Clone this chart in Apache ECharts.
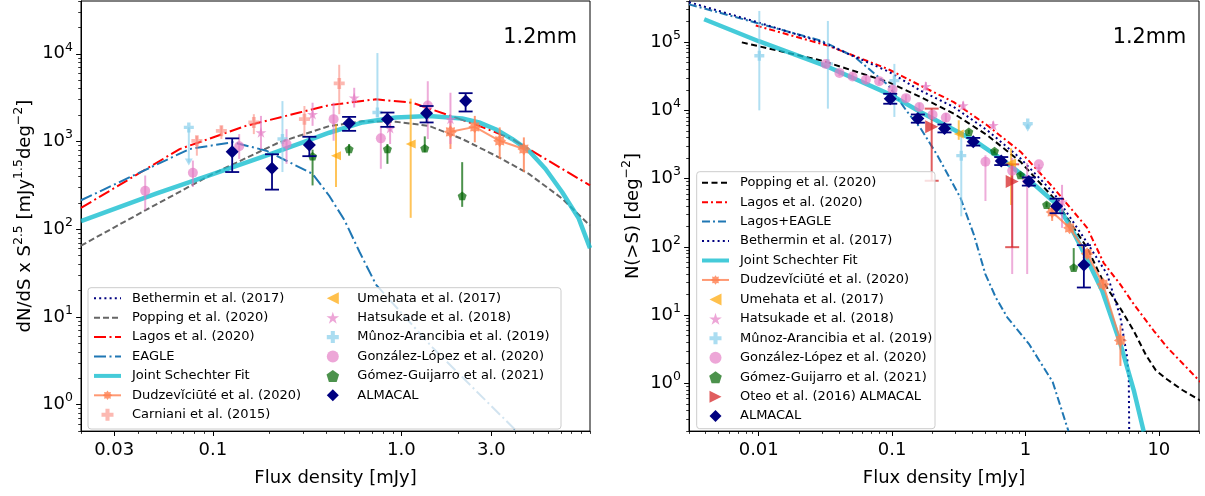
<!DOCTYPE html>
<html><head><meta charset="utf-8">
<script src="https://cdn.jsdelivr.net/npm/echarts@6/dist/echarts.min.js"></script>
<style>html,body{margin:0;padding:0;background:#fff}#c{width:1205px;height:496px}</style>
</head><body><div id="c"></div>
<script>
// ---------------- tick definitions ----------------
const L_X_MAJOR = [0.03, 0.1, 1, 3];
const L_X_LABELS = ['0.03', '0.1', '1.0', '3.0'];
const R_X_MAJOR = [0.01, 0.1, 1, 10];
const R_X_LABELS = ['0.01', '0.1', '1', '10'];
const L_Y_MAJOR = [1, 10, 100, 1000, 10000];
const R_Y_MAJOR = [1, 10, 100, 1000, 10000, 100000];

// ---------------- LEFT panel: dN/dS x S^2.5 ----------------
const L_SCHECHTER = [[0.02,124],[0.05,255],[0.1,424],[0.2,713],[0.3,980],[0.414,1260],[0.622,1650],[0.933,1880],[1.4,1960],[2.1,1830],[2.58,1650],[3.16,1380],[3.86,1070],[4.74,787],[5.8,489],[7.11,266],[8.71,133],[10,61]];
const L_POPPING = [[0.02,65],[0.044,165],[0.1,428],[0.225,980],[0.414,1500],[0.622,1700],[0.933,1680],[1.4,1510],[2.1,1070],[3.16,690],[4.74,428],[7.11,224],[10,110]];
const L_LAGOS = [[0.02,175],[0.0667,820],[0.15,1510],[0.288,2140],[0.414,2600],[0.733,3030],[1.14,2770],[1.72,2050],[2.58,1510],[3.86,1070],[5.8,634],[10,316]];
const L_EAGLE = [[0.02,214],[0.0753,822],[0.1276,983],[0.192,787],[0.338,428],[0.414,241],[0.5,126],[0.6,55],[0.733,23.4],[1.46,4.5],[4.03,0.513]];
const L_BETHERMIN = [];
// [S, value, low, high]
const L_ALMACAL = [[0.1267,767,449,1087],[0.206,497,283,716],[0.325,913,681,1133],[0.528,1620,1324,1910],[0.843,1800,1470,2140],[1.36,2100,1650,2540],[2.19,2900,2200,3560]];
const L_DUDZ = [[1.82,1290,823,1720],[2.45,1470,980,1960],[3.32,1020,634,1450],[4.46,822,449,1115]];
const L_CARNIANI = [[0.0823,1020,690,1160],[0.111,1324,1070,1510],[0.165,1650,1215,2050],[0.306,1800,1115,2540],[0.468,4590,2050,7500]];
const L_HATSUKADE = [[0.180,1270,823,1960],[0.338,2050,1510,2770],[0.562,3160,2440,4100],[0.871,1420,937,1960],[1.82,1800,937,3600]];
const L_MUNOZ = [[0.0746,1450,1450,1450],[0.234,1068,449,2890],[0.746,2140,1890,10200]];
const L_MUNOZ_LIM = [[0.0746,1450,532]];
const L_GONZALEZ = [[0.0438,274,165,410],[0.0784,441,303,607],[0.138,882,634,1215],[0.246,937,557,1385],[0.437,1800,1020,2770],[0.778,1087,489,1510],[1.38,2580,1070,4870]];
const L_UMEHATA = [[0.450,690,303,1575],[1.12,937,135,3080]];
const L_GOMEZ = [[0.338,681,316,808],[0.528,822,690,937],[0.843,822,557,937],[1.33,837,755,1145],[2.10,240,180,582]];

// ---------------- RIGHT panel: N(>S) ----------------
const R_SCHECHTER = [[0.0039,216000],[0.01,103000],[0.0316,45000],[0.097,17000],[0.163,9470],[0.251,6050],[0.41,3660],[0.65,1980],[1.06,958],[1.73,414],[2.2,190],[2.74,82],[3.76,22.7],[5.15,3.8],[6.48,0.8],[7.7,0.197]];
const R_POPPING = [[0.00747,99000],[0.0297,53500],[0.094,25900],[0.163,15700],[0.29,8960],[0.516,4330],[0.917,1770],[1.63,519],[2.9,97],[3.86,30],[5.15,12.5],[6.48,5.9],[8.0,2.6],[9.5,1.55],[11.5,1.15],[15,0.8],[20.5,0.56]];
const R_LAGOS = [[0.0095,175000],[0.0334,88000],[0.094,40000],[0.163,23100],[0.29,13200],[0.516,6050],[0.917,2480],[1.63,725],[2.9,190],[3.86,58],[5.15,28],[6.48,14.5],[9.16,5.9],[11.5,3.4],[20.5,1.05]];
const R_EAGLE = [[0.003,357000],[0.0094,194000],[0.0297,104000],[0.0528,60000],[0.094,23100],[0.13,9500],[0.163,5500],[0.218,2210],[0.326,520],[0.41,151],[0.5,40],[0.6,18],[0.73,9.3],[1.06,3.8],[1.6,1.05],[2.1,0.2]];
const R_BETHERMIN = [[0.003,385000],[0.0094,200000],[0.0297,100000],[0.094,37000],[0.163,19500],[0.29,11200],[0.516,5120],[0.917,1980],[1.63,612],[2.9,115],[4.1,39.6],[5.15,9.3],[5.78,2.43],[5.95,1.2],[6.0,0.15]];
const R_ALMACAL = [[0.0968,14800,12500,17500],[0.156,7570,6600,8700],[0.247,5420,4750,6200],[0.406,3470,3050,3950],[0.658,1810,1580,2070],[1.06,908,790,1040],[1.71,393,311,508],[2.74,54.3,25.4,106]];
const R_DUDZ = [[1.585,324,240,410],[2.14,190,170,212],[2.9,79.5,70,90],[3.82,28.4,24,34],[5.15,4.26,1.8,7.1]];
const R_MUNOZ = [[0.0101,63200,10000,286000],[0.033,47900,10600,204000],[0.104,27300,8000,47900],[0.33,2170,280,4330],[1.04,6400,6400,6400]];
const R_MUNOZ_LIM = [[1.04,6400,4850]];
const R_GONZALEZ = [[0.0318,47900,43000,53000],[0.0403,35400,32000,39000],[0.0505,31300,28000,35000],[0.0636,28000,25000,31000],[0.08,26800,24000,30000],[0.1007,20200,18000,22500],[0.127,15100,13500,17000],[0.16,11200,9800,12800],[0.201,8650,7500,10000],[0.253,7830,6700,9100],[0.501,1770,470,2200],[0.795,1300,40,2000],[1.03,950,40,1700],[1.26,1620,1620,1620]];
const R_GONZALEZ_LIM = [[1.26,1620,1156]];
const R_HATSUKADE = [[0.179,22600,19500,26000],[0.341,11800,10300,13500],[0.573,6050,5300,6900],[1.88,460,190,810]];
const R_UMEHATA = [[0.316,4500,3700,7150],[0.78,1700,410,2780]];
const R_GOMEZ = [[0.376,4850,4500,5200],[0.586,2530,2350,2720],[0.917,1130,1050,1220],[1.44,414,380,450],[2.30,49.7,45,96]];
const R_OTEO = [[0.198,5730,930,10600],[0.795,908,99,1620]];

// ---------------- styling helpers ----------------
const FONT = 'DejaVu Sans';
const NAVY = '#000080', CYAN = '#17becf', CORAL = '#FF7F50', SALMON = '#FA8072',
      ORANGE = '#FFA500', PINK = '#e377c2', SKY = '#87CEEB', DGREEN = '#006400', TRED = '#d62728', TBLUE = '#1f77b4';

function starPath(n, r1, r2) {
  let d = '';
  for (let i = 0; i < 2 * n; i++) {
    const r = i % 2 ? r2 : r1;
    const a = Math.PI * i / n - Math.PI / 2;
    d += (i ? 'L' : 'M') + (50 + r * Math.cos(a)).toFixed(2) + ',' + (50 + r * Math.sin(a)).toFixed(2) + ' ';
  }
  return 'path://' + d + 'Z';
}
const SYM_STAR5 = starPath(5, 50, 19.1);
const SYM_STAR8 = starPath(8, 50, 34);
const SYM_PENTAGON = (function(){ let d=''; for(let i=0;i<5;i++){const a=2*Math.PI*i/5-Math.PI/2; d+=(i?'L':'M')+(50+50*Math.cos(a)).toFixed(2)+','+(50+50*Math.sin(a)).toFixed(2)+' ';} return 'path://'+d+'Z'; })();
const SYM_PLUS = 'path://M3.3,0 L6.7,0 L6.7,3.3 L10,3.3 L10,6.7 L6.7,6.7 L6.7,10 L3.3,10 L3.3,6.7 L0,6.7 L0,3.3 L3.3,3.3 Z';
const SYM_LTRI = 'path://M0,5 L10,0 L10,10 Z';
const SYM_RTRI = 'path://M10,5 L0,0 L0,10 Z';
const SYM_DIAM = 'path://M5,0 L10,5 L5,10 L0,5 Z';

function minors(lo, hi, skip) {
  const out = [];
  for (let e = -4; e <= 6; e++) for (let m = 1; m <= 9; m++) {
    const v = +(m * Math.pow(10, e)).toPrecision(6);
    if (v >= lo * 0.9999 && v <= hi * 1.0001 && !skip.some(s => Math.abs(s - v) / v < 1e-6)) out.push(v);
  }
  return out;
}
const SUP = {fontSize: 12.5, lineHeight: 14, verticalAlign: 'top', fontFamily: FONT, color: '#000'};
function labelFrom(ticks, labels) {
  return v => { for (let i = 0; i < ticks.length; i++) if (Math.abs(Math.log10(v) - Math.log10(ticks[i])) < 1e-4) return labels[i]; return ''; };
}
function powLabel(v) { return '10{s|' + Math.round(Math.log10(v)) + '}'; }

function mkAxis(grid, min, max, ticks, fmt, minor, isY, name, nameGap) {
  const ax = {
    type: 'log', logBase: 10, gridIndex: grid, min: min, max: max, position: isY ? 'left' : 'bottom',
    silent: true,
    axisLine: {show: !minor, onZero: false, lineStyle: {color: '#000', width: 1}},
    axisTick: {show: true, inside: false, length: minor ? 2.8 : 4.9, customValues: ticks, lineStyle: {color: '#000', width: minor ? 0.8 : 1}},
    axisLabel: {show: !minor, customValues: ticks, formatter: fmt, margin: isY ? 8 : 9, color: '#000', fontFamily: FONT, fontSize: 18,
                lineHeight: isY ? 26 : 20, rich: {s: SUP}, hideOverlap: false, showMinLabel: true, showMaxLabel: true},
    splitLine: {show: false}, minorTick: {show: false}, minorSplitLine: {show: false}
  };
  if (name && !minor) {
    ax.name = name; ax.nameLocation = 'middle'; ax.nameGap = nameGap;
    if (isY) ax.nameRotate = 90;
    ax.nameTextStyle = {fontSize: 18, fontFamily: FONT, color: '#000', lineHeight: 26, rich: {s: SUP}};
  }
  return ax;
}

const L_X_MINOR = minors(0.02, 10, L_X_MAJOR);
const R_X_MINOR = minors(0.003, 20, R_X_MAJOR);
const L_Y_MINOR = minors(0.5, 40000, L_Y_MAJOR);
const R_Y_MINOR = minors(0.2, 400000, R_Y_MAJOR);

const xAxes = [
  mkAxis(0, 0.02, 10, L_X_MAJOR, labelFrom(L_X_MAJOR, L_X_LABELS), false, false, 'Flux density [mJy]', 31),
  mkAxis(0, 0.02, 10, L_X_MINOR, null, true, false),
  mkAxis(1, 0.003, 20, R_X_MAJOR, labelFrom(R_X_MAJOR, R_X_LABELS), false, false, 'Flux density [mJy]', 31),
  mkAxis(1, 0.003, 20, R_X_MINOR, null, true, false)
];
const yAxes = [
  mkAxis(0, 0.5, 40000, L_Y_MAJOR, powLabel, false, true, 'dN/dS x S{s|2.5} [mJy{s|1.5}deg{s|\u22122}]', 42),
  mkAxis(0, 0.5, 40000, L_Y_MINOR, null, true, true),
  mkAxis(1, 0.2, 400000, R_Y_MAJOR, powLabel, false, true, 'N(>S) [deg{s|\u22122}]', 42),
  mkAxis(1, 0.2, 400000, R_Y_MINOR, null, true, true)
];

function curve(name, data, ai, color, width, type, opacity, z) {
  return {type: 'line', name: name, data: data, xAxisIndex: ai, yAxisIndex: ai, symbol: 'none', silent: true,
          clip: true, z: z || 2, animation: false, smooth: false,
          lineStyle: {color: color, width: width, type: type, opacity: opacity == null ? 1 : opacity, join: 'round'},
          itemStyle: {color: color, opacity: opacity == null ? 1 : opacity}};
}
function errbars(data, ai, color, opacity, cap, lw, z) {
  return {type: 'custom', xAxisIndex: ai, yAxisIndex: ai, data: data, z: z || 3, silent: true, clip: true,
    encode: {x: 0, y: 1},
    renderItem: function (params, api) {
      const x = api.value(0), lo = api.value(2), hi = api.value(3);
      const a = api.coord([x, hi]), b = api.coord([x, lo]);
      const st = {stroke: color, lineWidth: lw, opacity: opacity};
      const ch = [];
      if (hi !== lo) ch.push({type: 'line', shape: {x1: a[0], y1: a[1], x2: b[0], y2: b[1]}, style: st});
      if (cap) {
        ch.push({type: 'line', shape: {x1: a[0] - cap, y1: a[1], x2: a[0] + cap, y2: a[1]}, style: st});
        ch.push({type: 'line', shape: {x1: b[0] - cap, y1: b[1], x2: b[0] + cap, y2: b[1]}, style: st});
      }
      return {type: 'group', children: ch};
    }};
}
function uplims(data, ai, color, opacity, lw, z) {
  return {type: 'custom', xAxisIndex: ai, yAxisIndex: ai, data: data, z: z || 3, silent: true,
    encode: {x: 0, y: 1},
    renderItem: function (params, api) {
      const x = api.value(0), v = api.value(1), tip = api.value(2);
      const a = api.coord([x, v]), b = api.coord([x, tip]);
      return {type: 'group', children: [
        {type: 'line', shape: {x1: a[0], y1: a[1], x2: b[0], y2: b[1] - 3}, style: {stroke: color, lineWidth: lw, opacity: opacity}},
        {type: 'polygon', shape: {points: [[b[0] - 4, b[1] - 7], [b[0] + 4, b[1] - 7], [b[0], b[1]]]}, style: {fill: color, opacity: opacity}}
      ]};
    }};
}
function points(name, data, ai, symbol, size, color, opacity, z) {
  return {type: 'scatter', name: name, data: data, xAxisIndex: ai, yAxisIndex: ai, symbol: symbol, symbolSize: size,
          silent: true, z: z || 4, encode: {x: 0, y: 1}, symbolKeepAspect: true,
          itemStyle: {color: color, opacity: opacity, borderWidth: 0}};
}
function dudz(name, data, ai) {
  return {type: 'line', name: name, data: data, xAxisIndex: ai, yAxisIndex: ai, symbol: SYM_STAR8, symbolSize: 13, showSymbol: true,
          silent: true, z: 4, encode: {x: 0, y: 1},
          lineStyle: {color: CORAL, width: 2, opacity: 0.8}, itemStyle: {color: CORAL, opacity: 0.8}};
}

const N = {
  beth: 'Bethermin et al. (2017)', pop: 'Popping et al. (2020)', lag: 'Lagos et al. (2020)', eagle: 'EAGLE',
  sch: 'Joint Schechter Fit', dud: 'Dudzev\u01D0ci\u016Bt\u00E9 et al. (2020)', car: 'Carniani et al. (2015)',
  ume: 'Umehata et al. (2017)', hat: 'Hatsukade et al. (2018)', mun: 'M\u00FBnoz-Arancibia et al. (2019)',
  gon: 'Gonz\u00E1lez-L\u00F3pez et al. (2020)', gom: 'G\u00F3mez-Guijarro et al. (2021)', alm: 'ALMACAL',
  lagE: 'Lagos+EAGLE', oteo: 'Oteo et al. (2016) ALMACAL'
};
const R = s => 'R|' + s;
// legend entry for a pure line: hide the symbol the line icon would otherwise carry
const lineOnly = (n, w) => (w ? {name: n, itemStyle: {opacity: 0}, lineStyle: {width: w}} : {name: n, itemStyle: {opacity: 0}});

const series = [
  // ---- left curves ----
  curve(N.beth, L_BETHERMIN, 0, NAVY, 2, [2, 3.2]),
  curve(N.pop, L_POPPING, 0, '#666666', 2, [6, 3]),
  curve(N.lag, L_LAGOS, 0, '#ff0000', 2, [12, 3.5, 2, 3.5]),
  curve(N.eagle, L_EAGLE, 0, TBLUE, 2, [12, 3.5, 2, 3.5]),
  curve(N.sch, L_SCHECHTER, 0, CYAN, 4.5, 'solid', 0.8, 2.5),
  // ---- left data ----
  errbars(L_DUDZ, 0, CORAL, 0.8, 0, 2),
  errbars(L_CARNIANI, 0, SALMON, 0.55, 0, 2),
  errbars(L_UMEHATA, 0, ORANGE, 0.65, 0, 2),
  errbars(L_HATSUKADE, 0, PINK, 0.65, 0, 2),
  errbars(L_MUNOZ, 0, SKY, 0.65, 0, 2),
  uplims(L_MUNOZ_LIM, 0, SKY, 0.65, 2),
  errbars(L_GONZALEZ, 0, PINK, 0.6, 0, 2),
  errbars(L_GOMEZ, 0, DGREEN, 0.7, 0, 2),
  errbars(L_ALMACAL, 0, NAVY, 1, 7, 1.8, 5),
  dudz(N.dud, L_DUDZ, 0),
  points(N.car, L_CARNIANI, 0, SYM_PLUS, 11, SALMON, 0.55),
  points(N.ume, L_UMEHATA, 0, SYM_LTRI, [10, 9], ORANGE, 0.7),
  points(N.hat, L_HATSUKADE, 0, SYM_STAR5, 11, PINK, 0.65),
  points(N.mun, L_MUNOZ, 0, SYM_PLUS, 10, SKY, 0.7),
  points(N.gon, L_GONZALEZ, 0, 'circle', 10, PINK, 0.65),
  points(N.gom, L_GOMEZ, 0, SYM_PENTAGON, 9, DGREEN, 0.7),
  points(N.alm, L_ALMACAL, 0, SYM_DIAM, 13, NAVY, 1, 6),

  // ---- right curves ----
  curve(R(N.pop), R_POPPING, 2, '#000000', 2, [6, 3.5]),
  curve(R(N.lag), R_LAGOS, 2, '#ff0000', 2, [6, 3, 2, 3]),
  curve(R(N.lagE), R_EAGLE, 2, TBLUE, 2, [8, 3, 2, 3]),
  curve(R(N.beth), R_BETHERMIN, 2, NAVY, 2, [2, 3.2]),
  curve(R(N.sch), R_SCHECHTER, 2, CYAN, 4.5, 'solid', 0.8, 2.5),
  // ---- right data ----
  errbars(R_DUDZ, 2, CORAL, 0.8, 0, 2),
  errbars(R_UMEHATA, 2, ORANGE, 0.65, 0, 2),
  errbars(R_HATSUKADE, 2, PINK, 0.65, 0, 2),
  errbars(R_MUNOZ, 2, SKY, 0.65, 0, 2),
  uplims(R_MUNOZ_LIM, 2, SKY, 0.65, 2),
  errbars(R_GONZALEZ, 2, PINK, 0.6, 0, 2),
  uplims(R_GONZALEZ_LIM, 2, PINK, 0.6, 2),
  errbars(R_GOMEZ, 2, DGREEN, 0.7, 0, 2),
  errbars(R_OTEO, 2, TRED, 0.75, 7, 2),
  errbars(R_ALMACAL, 2, NAVY, 1, 7, 1.8, 5),
  dudz(R(N.dud), R_DUDZ, 2),
  points(R(N.ume), R_UMEHATA, 2, SYM_LTRI, [10, 9], ORANGE, 0.7),
  points(R(N.hat), R_HATSUKADE, 2, SYM_STAR5, 11, PINK, 0.65),
  points(R(N.mun), R_MUNOZ, 2, SYM_PLUS, 10, SKY, 0.7),
  points(R(N.gon), R_GONZALEZ, 2, 'circle', 10, PINK, 0.65),
  points(R(N.gom), R_GOMEZ, 2, SYM_PENTAGON, 9, DGREEN, 0.7),
  points(R(N.oteo), R_OTEO, 2, SYM_RTRI, 13, TRED, 0.75),
  points(R(N.alm), R_ALMACAL, 2, SYM_DIAM, 13, NAVY, 1, 6)
];

const LEG = {
  orient: 'vertical', padding: 0, itemWidth: 27, itemHeight: 12, itemGap: 5.4, selectedMode: false, z: 11,
  symbolKeepAspect: true,
  textStyle: {fontSize: 13, fontFamily: FONT, color: '#000', lineHeight: 14, padding: [0, 0, 0, 6]},
  formatter: n => n.replace(/^R\|/, '')
};

const option = {
  animation: false,
  backgroundColor: '#ffffff',
  grid: [
    {left: 81, top: 1, width: 509, height: 433, show: true, borderColor: '#000', borderWidth: 1, containLabel: false},
    {left: 689, top: 1, width: 510, height: 433, show: true, borderColor: '#000', borderWidth: 1, containLabel: false}
  ],
  xAxis: xAxes,
  yAxis: yAxes,
  legend: [
    Object.assign({}, LEG, {left: 92, top: 291.3,
      data: [lineOnly(N.beth), lineOnly(N.pop), lineOnly(N.lag), lineOnly(N.eagle), lineOnly(N.sch, 4), N.dud, N.car]}),
    Object.assign({}, LEG, {left: 326.5, top: 291.3, data: [N.ume, N.hat, N.mun, N.gon, N.gom, N.alm]}),
    Object.assign({}, LEG, {left: 700, top: 175.7, itemGap: 5.45,
      data: [lineOnly(R(N.pop)), lineOnly(R(N.lag)), lineOnly(R(N.lagE)), lineOnly(R(N.beth)), lineOnly(R(N.sch), 4),
             R(N.dud), R(N.ume), R(N.hat), R(N.mun), R(N.gon), R(N.gom), R(N.oteo), R(N.alm)]})
  ],
  graphic: [
    {type: 'rect', z: 10, silent: true, shape: {x: 88, y: 287.7, width: 473, height: 141.3, r: 3},
     style: {fill: 'rgba(255,255,255,0.8)', stroke: '#cccccc', lineWidth: 1}},
    {type: 'rect', z: 10, silent: true, shape: {x: 696.7, y: 171.7, width: 238.3, height: 257, r: 3},
     style: {fill: 'rgba(255,255,255,0.8)', stroke: '#cccccc', lineWidth: 1}},
    {type: 'text', z: 12, silent: true, style: {text: '1.2mm', x: 503.3, y: 37.5, fontSize: 20.8, fontFamily: FONT, fill: '#000', align: 'left', verticalAlign: 'middle'}},
    {type: 'text', z: 12, silent: true, style: {text: '1.2mm', x: 1112.7, y: 37.5, fontSize: 20.8, fontFamily: FONT, fill: '#000', align: 'left', verticalAlign: 'middle'}}
  ],
  series: series
};

const chart = echarts.init(document.getElementById('c'), null, {renderer: 'canvas'});
chart.setOption(option);
</script></body></html>
